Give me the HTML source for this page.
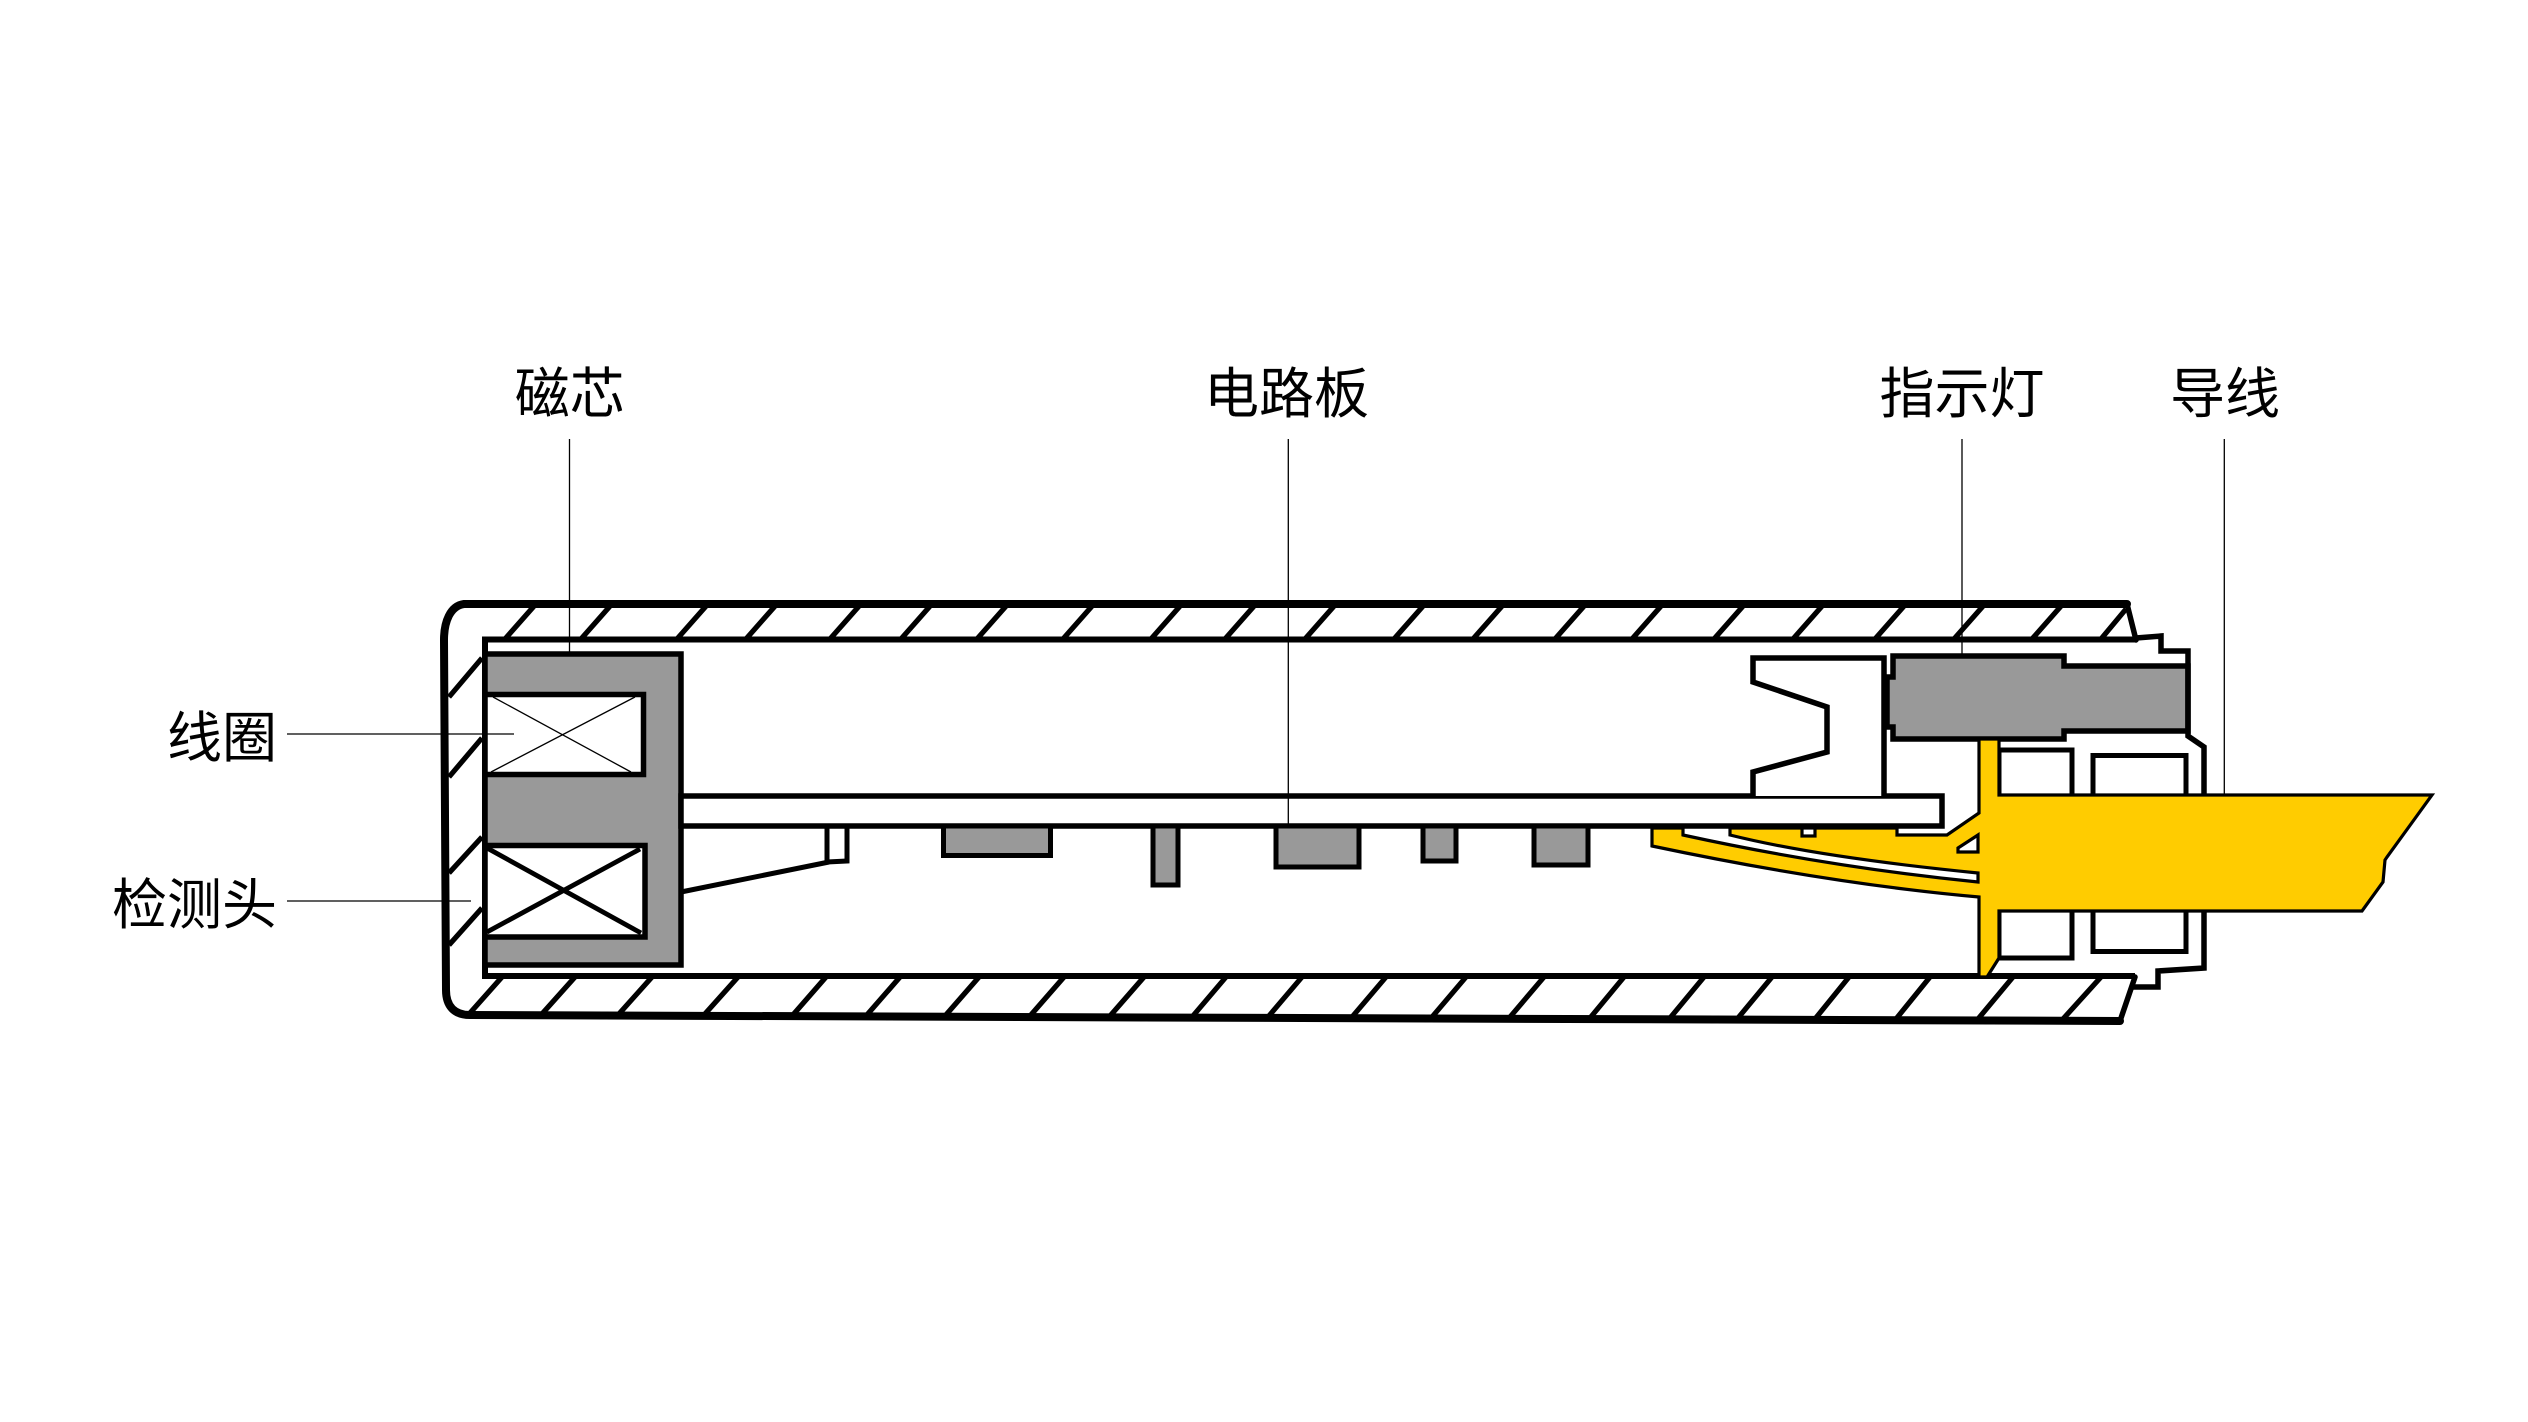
<!DOCTYPE html>
<html><head><meta charset="utf-8"><style>html,body{margin:0;padding:0;background:#fff}svg{display:block}</style></head>
<body>
<svg width="2528" height="1422" viewBox="0 0 2528 1422" xmlns="http://www.w3.org/2000/svg">
<rect width="2528" height="1422" fill="#fff"/>
<!-- hatches -->
<g stroke="#000" stroke-width="5.2" stroke-linecap="butt" fill="none">
<path d="M505 639L535 605M581 639L611 605M677 639L707 605M746 639L776 605M830 639L860 605M901 639L931 605M977 639L1007 605M1063 639L1093 605M1151 639L1181 605M1225 639L1255 605M1305 639L1335 605M1394 639L1424 605M1473 639L1503 605M1555 639L1585 605M1632 639L1662 605M1714 639L1744 605M1793 639L1823 605M1875 639L1905 605M1954 639L1984 605M2032 639L2062 605M2101 639L2126 609"/>
<path d="M470 1013L502 977M541 1015L575 977M618 1015L652 977M704 1015L738 977M792 1016L826 977M866 1016L900 977M945 1016L979 977M1030 1016L1064 977M1110 1016L1144 977M1192 1017L1226 977M1268 1017L1302 977M1352 1017L1386 977M1432 1017L1466 977M1510 1017L1544 977M1590 1018L1624 977M1670 1018L1704 977M1738 1018L1772 977M1815 1019L1849 977M1896 1019L1930 977M1978 1019L2013 977M2063 1019L2101 977"/>
<path d="M449 697L482 658M449 777L482 738M449 873L482 837M449 945L482 908"/>
</g>
<!-- shell outlines -->
<path d="M2127 604L464 604C450 606 444 622 444 640L446 990C446 1006 454 1015 470 1015L2120 1021" fill="none" stroke="#000" stroke-width="8" stroke-linejoin="round" stroke-linecap="round"/>
<path d="M2127 604L2136 640M2135 977L2120 1021" fill="none" stroke="#000" stroke-width="5.5" stroke-linecap="round"/>
<path d="M2136 639.5L485 639.5L485 976L2135 976" fill="none" stroke="#000" stroke-width="6"/>
<!-- core -->
<rect x="485" y="654" width="196" height="311" fill="#999" stroke="#000" stroke-width="5.5"/>
<rect x="485" y="694.5" width="158.5" height="80" fill="#fff" stroke="#000" stroke-width="5.5"/>
<rect x="485" y="845.5" width="160" height="91.5" fill="#fff" stroke="#000" stroke-width="5.5"/>
<path d="M493 697L631 772M491 772L635 697" stroke="#000" stroke-width="1.3"/>
<path d="M487 848L641 933M487 932L640 849" stroke="#000" stroke-width="4.8"/>
<!-- PCB -->
<path d="M681 892L829 862" stroke="#000" stroke-width="5"/>
<path d="M827 826L827 862L847 861L847 826" fill="#fff" stroke="#000" stroke-width="5"/>
<rect x="681" y="796" width="1261" height="30" fill="#fff" stroke="#000" stroke-width="5.5"/>
<g fill="#999" stroke="#000" stroke-width="5">
<rect x="943.5" y="826" width="107" height="29.5"/>
<rect x="1153" y="826" width="25" height="59"/>
<rect x="1276" y="826" width="83" height="41"/>
<rect x="1423" y="826" width="33" height="35"/>
<rect x="1534" y="826" width="54" height="39"/>
</g>
<!-- light holder -->
<path d="M1884 796L1884 658L1753 658L1753 682L1827 707L1827 752L1753 772L1753 796" fill="#fff" stroke="#000" stroke-width="5.5" stroke-linejoin="miter"/>
<!-- LED -->
<path d="M1893 656L2064 656L2064 666L2188 666L2188 731L2064 731L2064 739L1893 739L1893 727L1887 727L1887 677L1893 677Z" fill="#999" stroke="#000" stroke-width="5.5"/>
<!-- cap -->
<path d="M2136 638L2161 636L2161 651L2188 651L2188 736L2204 747L2204 968L2158 971L2158 987L2133 987" fill="none" stroke="#000" stroke-width="5.5"/>
<rect x="1999" y="750" width="73" height="208" fill="#fff" stroke="#000" stroke-width="5"/>
<rect x="2093" y="755.5" width="93" height="196" fill="#fff" stroke="#000" stroke-width="5"/>
<!-- yellow -->
<path d="M1979 739L1999 739L1999 795L2432 795L2387 857L2385 860L2383 882L2362 911L1999 911L1999 958L1987 977L1979 977L1979 897Q1832 884 1652 846L1652 828L1683 828L1683 835Q1829 867 1978 882L1978 873Q1818 857 1730 835L1730 828L1897 828L1897 835L1947 835L1979 813Z" fill="#FFCC00" stroke="#000" stroke-width="3.2" stroke-linejoin="miter"/>
<rect x="1802" y="828" width="13" height="8" fill="#fff" stroke="#000" stroke-width="3.2"/>
<polygon points="1958,848 1978,835 1978,852 1958,852" fill="#fff" stroke="#000" stroke-width="3.2"/>
<!-- leaders -->
<g stroke="#000" stroke-width="1.3">
<path d="M569.5 439L569.5 654M1288.3 439L1288.3 826M1962 439L1962 656M2224.3 439L2224.3 795M287 734L514 734M287 901L471 901"/>
</g>
<g font-family="'Liberation Sans','Noto Sans CJK SC',sans-serif" font-size="55" fill="#000">
<text x="569.7" y="413" text-anchor="middle">磁芯</text>
<text x="1286.5" y="413" text-anchor="middle">电路板</text>
<text x="1962" y="413" text-anchor="middle">指示灯</text>
<text x="2225" y="413" text-anchor="middle">导线</text>
<text x="277" y="757" text-anchor="end">线圈</text>
<text x="277" y="924" text-anchor="end">检测头</text>
</g>
</svg>
</body></html>
